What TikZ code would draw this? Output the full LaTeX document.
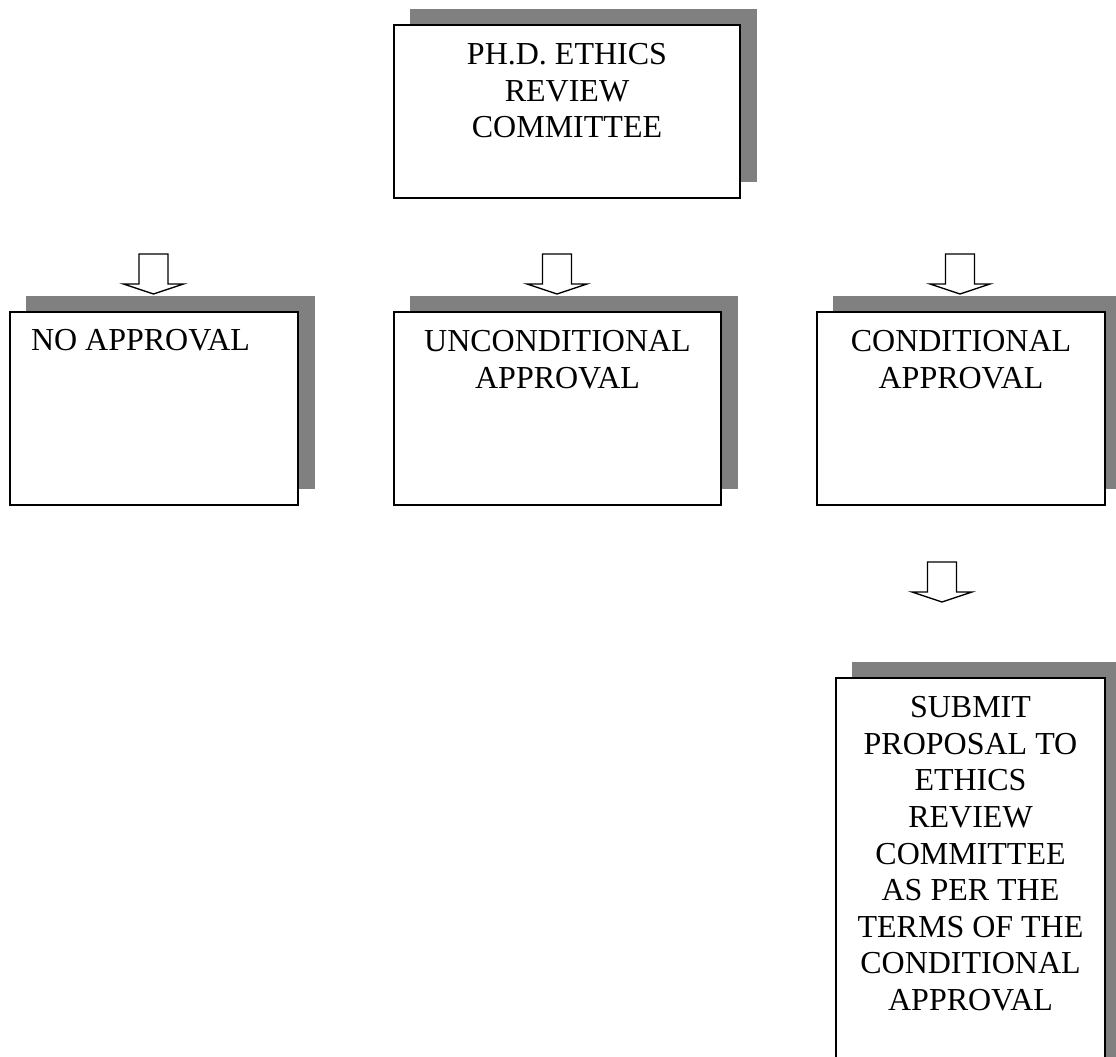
\documentclass[tikz,border=0pt]{standalone}
\usepackage{fontspec}
\setmainfont{Liberation Serif}
\usetikzlibrary{backgrounds}
\definecolor{shadowgray}{RGB}{128,128,128}
\tikzset{
  boxnode/.style={draw=black, line width=1.8pt, fill=white, rectangle, inner sep=0pt, outer sep=0pt},
  boxtext/.style={inner sep=0pt, outer sep=0pt, align=center, font=\fontsize{32}{36.6}\selectfont},
  shadowfill/.style={fill=shadowgray, draw=none},
  arrowline/.style={draw=black, line width=1.4pt, fill=white, line join=miter},
  downarrow/.pic={
    \path[arrowline] (-14.5,0) -- (14.5,0) -- (14.5,30) -- (30,30) -- (0,40)
      -- (-30,30) -- (-14.5,30) -- cycle;
  }
}
\begin{document}
\begin{tikzpicture}[x=1pt,y=-1pt]
\useasboundingbox (0,0) rectangle (1116,1057);
\clip (0,0) rectangle (1116,1057);

% boxes
\node[boxnode, minimum width=346pt, minimum height=173pt] (committee) at (567,111.5) {};
\node[boxnode, minimum width=288pt, minimum height=193pt] (noappr) at (154,408.5) {};
\node[boxnode, minimum width=327pt, minimum height=193pt] (uncond) at (557.5,408.5) {};
\node[boxnode, minimum width=288pt, minimum height=193pt] (cond) at (961,408.5) {};
\node[boxnode, minimum width=269pt, minimum height=400pt] (submit) at (970.5,878) {};

% shadows
\begin{scope}[on background layer]
  \fill[white] (0,0) rectangle (1116,1057);
  \foreach \b in {committee,noappr,uncond,cond,submit}{
    \fill[shadowfill] ([shift={(16,-16)}]\b.south west) rectangle ([shift={(17,-16)}]\b.north east);
  }
\end{scope}

% texts
\node[boxtext, anchor=north] (tcommittee) at (567,43.5) {PH.D. ETHICS\\REVIEW\\COMMITTEE};
\node[boxtext, anchor=north west] (tnoappr) at (31,329.5) {NO APPROVAL};
\node[boxtext, anchor=north] (tuncond) at (557.5,330.5) {UNCONDITIONAL\\APPROVAL};
\node[boxtext, anchor=north] (tcond) at (961,330.5) {CONDITIONAL\\APPROVAL};
\node[boxtext, anchor=north] (tsubmit) at (970.5,696.5) {SUBMIT\\PROPOSAL TO\\ETHICS\\REVIEW\\COMMITTEE\\AS PER THE\\TERMS OF THE\\CONDITIONAL\\APPROVAL};

% block arrows
\coordinate (a1) at (153.5,254);
\coordinate (a2) at (557,254);
\coordinate (a3) at (960,254);
\coordinate (a4) at (942,562);
\foreach \a in {a1,a2,a3,a4}{
  \pic at (\a) {downarrow};
}
\end{tikzpicture}
\end{document}
